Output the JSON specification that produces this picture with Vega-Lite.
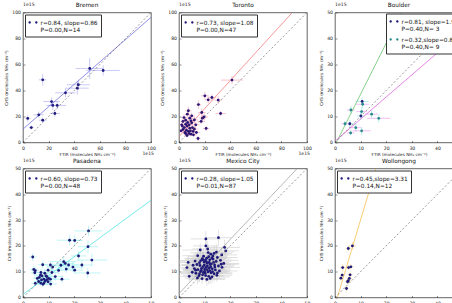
{
  "$schema": "https://vega.github.io/schema/vega-lite/v6.json",
  "background": "white",
  "padding": {"left": 3, "top": 0.5, "right": 0, "bottom": 0},
  "datasets": {
    "fits": [
      {"fit": "Bremen", "label": "r=0.84, slope=0.86|P=0.00,N=14", "x": 0, "y": 10.3, "x2": 100, "y2": 96.3},
      {"fit": "Toronto", "label": "r=0.73, slope=1.08|P=0.00,N=47", "x": 0, "y": 4.4, "x2": 88.52, "y2": 100.0},
      {"fit": "Boulder-a", "label": "r=0.81, slope=1.96|P=0.40,N= 3", "x": 0.51, "y": 0, "x2": 26.02, "y2": 50.0},
      {"fit": "Boulder-b", "label": "r=0.32,slope=0.85|P=0.40,N= 9", "x": 0, "y": 0.5, "x2": 50, "y2": 43.0},
      {"fit": "Pasadena", "label": "r=0.60, slope=0.73|P=0.00,N=48", "x": 0, "y": 1.2, "x2": 50, "y2": 37.7},
      {"fit": "Mexico City", "label": "r=0.28, slope=1.05|P=0.01,N=87", "x": 0, "y": 1.5, "x2": 46.19, "y2": 50.0},
      {"fit": "Wollongong", "label": "r=0.45,slope=3.31|P=0.14,N=12", "x": 0.906, "y": 0, "x2": 16.01, "y2": 50.0}
    ],
    "obs": [
      {"fit": "Bremen", "x": 3.7, "y": 18.5, "ex": 2, "ey": 2.5},
      {"fit": "Bremen", "x": 6.5, "y": 11.5, "ex": 2, "ey": 1.5},
      {"fit": "Bremen", "x": 12.3, "y": 21.3, "ex": 4, "ey": 2.5},
      {"fit": "Bremen", "x": 15.4, "y": 48.2, "ex": 3, "ey": 4.5},
      {"fit": "Bremen", "x": 15.4, "y": 17.2, "ex": 3, "ey": 2},
      {"fit": "Bremen", "x": 22.3, "y": 31.5, "ex": 6.5, "ey": 3},
      {"fit": "Bremen", "x": 23.3, "y": 28.5, "ex": 5, "ey": 3.5},
      {"fit": "Bremen", "x": 24.9, "y": 22.3, "ex": 4, "ey": 2.5},
      {"fit": "Bremen", "x": 26.7, "y": 28.5, "ex": 7, "ey": 3},
      {"fit": "Bremen", "x": 33.2, "y": 38.2, "ex": 8, "ey": 3.5},
      {"fit": "Bremen", "x": 42.4, "y": 41.8, "ex": 9, "ey": 5},
      {"fit": "Bremen", "x": 43.2, "y": 44.4, "ex": 9, "ey": 4},
      {"fit": "Bremen", "x": 52.1, "y": 56.9, "ex": 11, "ey": 8},
      {"fit": "Bremen", "x": 62.6, "y": 55.4, "ex": 13, "ey": 4},

      {"fit": "Toronto", "x": 41.4, "y": 48.0, "ex": 8.5, "ey": 3},
      {"fit": "Toronto", "x": 30.6, "y": 32.6, "ex": 3, "ey": 3},
      {"fit": "Toronto", "x": 32.5, "y": 22.3, "ex": 4, "ey": 2},
      {"fit": "Toronto", "x": 20.2, "y": 35.9, "ex": 3, "ey": 3},
      {"fit": "Toronto", "x": 25.7, "y": 34.6, "ex": 3, "ey": 2.5},
      {"fit": "Toronto", "x": 22.8, "y": 32.8, "ex": 2.5, "ey": 2.5},
      {"fit": "Toronto", "x": 15.2, "y": 29.2, "ex": 2, "ey": 3},
      {"fit": "Toronto", "x": 17.8, "y": 23.1, "ex": 3, "ey": 3},
      {"fit": "Toronto", "x": 18.3, "y": 18.7, "ex": 2.5, "ey": 2.5},
      {"fit": "Toronto", "x": 19.6, "y": 19.7, "ex": 3, "ey": 2.5},
      {"fit": "Toronto", "x": 21.2, "y": 10.8, "ex": 2.5, "ey": 2},
      {"fit": "Toronto", "x": 14.9, "y": 3.1, "ex": 2, "ey": 2},
      {"fit": "Toronto", "x": 7.3, "y": 24.4, "ex": 2.5, "ey": 3},
      {"fit": "Toronto", "x": 6.5, "y": 21.8, "ex": 2, "ey": 2.5},
      {"fit": "Toronto", "x": 8.4, "y": 18.7, "ex": 2.5, "ey": 2.5},
      {"fit": "Toronto", "x": 5.2, "y": 17.2, "ex": 2, "ey": 2},
      {"fit": "Toronto", "x": 3.1, "y": 16.2, "ex": 2, "ey": 2},
      {"fit": "Toronto", "x": 2.1, "y": 13.6, "ex": 1.5, "ey": 2},
      {"fit": "Toronto", "x": 4.2, "y": 11.5, "ex": 2, "ey": 2},
      {"fit": "Toronto", "x": 6.3, "y": 12.6, "ex": 2, "ey": 2},
      {"fit": "Toronto", "x": 7.9, "y": 13.6, "ex": 2.5, "ey": 2},
      {"fit": "Toronto", "x": 9.9, "y": 15.1, "ex": 3, "ey": 2},
      {"fit": "Toronto", "x": 12.0, "y": 17.4, "ex": 3, "ey": 2.5},
      {"fit": "Toronto", "x": 10.5, "y": 11.5, "ex": 2.5, "ey": 2},
      {"fit": "Toronto", "x": 5.8, "y": 9.5, "ex": 2, "ey": 1.5},
      {"fit": "Toronto", "x": 7.3, "y": 8.5, "ex": 2, "ey": 1.5},
      {"fit": "Toronto", "x": 4.7, "y": 7.7, "ex": 2, "ey": 1.5},
      {"fit": "Toronto", "x": 8.9, "y": 9.0, "ex": 2.5, "ey": 1.5},
      {"fit": "Toronto", "x": 11.0, "y": 8.5, "ex": 2.5, "ey": 1.5},
      {"fit": "Toronto", "x": 3.1, "y": 10.0, "ex": 1.5, "ey": 1.5},
      {"fit": "Toronto", "x": 1.6, "y": 9.0, "ex": 1.5, "ey": 1.5},
      {"fit": "Toronto", "x": 5.2, "y": 14.1, "ex": 2, "ey": 2},
      {"fit": "Toronto", "x": 6.8, "y": 15.4, "ex": 2, "ey": 2},
      {"fit": "Toronto", "x": 9.4, "y": 6.4, "ex": 2, "ey": 1.5},
      {"fit": "Toronto", "x": 6.3, "y": 5.4, "ex": 2, "ey": 1.5},
      {"fit": "Toronto", "x": 7.9, "y": 6.9, "ex": 2, "ey": 1.5},
      {"fit": "Toronto", "x": 12.0, "y": 10.3, "ex": 3, "ey": 2},
      {"fit": "Toronto", "x": 13.1, "y": 13.6, "ex": 3, "ey": 2},
      {"fit": "Toronto", "x": 3.9, "y": 19.2, "ex": 2, "ey": 2.5},
      {"fit": "Toronto", "x": 9.9, "y": 20.5, "ex": 2.5, "ey": 2.5},
      {"fit": "Toronto", "x": 2.6, "y": 12.6, "ex": 1.5, "ey": 2},
      {"fit": "Toronto", "x": 8.4, "y": 11.0, "ex": 2, "ey": 1.5},
      {"fit": "Toronto", "x": 5.2, "y": 6.9, "ex": 2, "ey": 1.5},
      {"fit": "Toronto", "x": 13.6, "y": 7.7, "ex": 3, "ey": 1.5},
      {"fit": "Toronto", "x": 11.3, "y": 5.9, "ex": 2.5, "ey": 1.5},
      {"fit": "Toronto", "x": 9.4, "y": 16.7, "ex": 2.5, "ey": 2},
      {"fit": "Toronto", "x": 17.3, "y": 16.2, "ex": 3, "ey": 2},

      {"fit": "Boulder-a", "x": 10.6, "y": 15.8, "ex": 2.5, "ey": 1.5},
      {"fit": "Boulder-a", "x": 10.1, "y": 10.2, "ex": 1.5, "ey": 1.5},
      {"fit": "Boulder-a", "x": 5.8, "y": 7.2, "ex": 2, "ey": 1.5},
      {"fit": "Boulder-b", "x": 10.8, "y": 14.7, "ex": 2.5, "ey": 1.5},
      {"fit": "Boulder-b", "x": 6.2, "y": 12.5, "ex": 1.5, "ey": 1.5},
      {"fit": "Boulder-b", "x": 10.4, "y": 11.9, "ex": 2, "ey": 1.5},
      {"fit": "Boulder-b", "x": 14.3, "y": 10.9, "ex": 2.5, "ey": 1.5},
      {"fit": "Boulder-b", "x": 3.9, "y": 7.2, "ex": 1.5, "ey": 1},
      {"fit": "Boulder-b", "x": 17.1, "y": 9.3, "ex": 4.5, "ey": 1.5},
      {"fit": "Boulder-b", "x": 8.1, "y": 5.7, "ex": 2, "ey": 1.5},
      {"fit": "Boulder-b", "x": 6.1, "y": 3.7, "ex": 1.5, "ey": 1},
      {"fit": "Boulder-b", "x": 10.4, "y": 4.5, "ex": 3.5, "ey": 1.5},

      {"fit": "Pasadena", "x": 25.6, "y": 25.8, "ex": 5.5, "ey": 2},
      {"fit": "Pasadena", "x": 18.2, "y": 22.2, "ex": 5, "ey": 2},
      {"fit": "Pasadena", "x": 20.2, "y": 22.1, "ex": 3, "ey": 2},
      {"fit": "Pasadena", "x": 25.4, "y": 19.7, "ex": 4, "ey": 2.5},
      {"fit": "Pasadena", "x": 21.7, "y": 16.1, "ex": 3, "ey": 2},
      {"fit": "Pasadena", "x": 26.9, "y": 14.5, "ex": 6, "ey": 2.5},
      {"fit": "Pasadena", "x": 3.8, "y": 15.7, "ex": 1.5, "ey": 1.5},
      {"fit": "Pasadena", "x": 15.9, "y": 13.9, "ex": 5, "ey": 2},
      {"fit": "Pasadena", "x": 14.8, "y": 12.5, "ex": 4, "ey": 2},
      {"fit": "Pasadena", "x": 16.5, "y": 13.2, "ex": 3.5, "ey": 1.5},
      {"fit": "Pasadena", "x": 17.8, "y": 12.6, "ex": 4, "ey": 1.5},
      {"fit": "Pasadena", "x": 19.5, "y": 11.8, "ex": 4.5, "ey": 2},
      {"fit": "Pasadena", "x": 20.2, "y": 10.6, "ex": 3, "ey": 1.5},
      {"fit": "Pasadena", "x": 16.9, "y": 11.0, "ex": 3.5, "ey": 1.5},
      {"fit": "Pasadena", "x": 15.2, "y": 7.1, "ex": 3, "ey": 1.5},
      {"fit": "Pasadena", "x": 25.3, "y": 9.5, "ex": 5, "ey": 2},
      {"fit": "Pasadena", "x": 23.0, "y": 12.6, "ex": 4, "ey": 2},
      {"fit": "Pasadena", "x": 10.7, "y": 12.6, "ex": 3, "ey": 1.5},
      {"fit": "Pasadena", "x": 11.6, "y": 11.8, "ex": 2.5, "ey": 1.5},
      {"fit": "Pasadena", "x": 4.2, "y": 10.9, "ex": 1.5, "ey": 1.5},
      {"fit": "Pasadena", "x": 4.8, "y": 10.4, "ex": 1.5, "ey": 1.5},
      {"fit": "Pasadena", "x": 4.6, "y": 9.6, "ex": 1.5, "ey": 1.5},
      {"fit": "Pasadena", "x": 7.7, "y": 12.7, "ex": 2, "ey": 1.5},
      {"fit": "Pasadena", "x": 9.8, "y": 10.6, "ex": 2, "ey": 1.5},
      {"fit": "Pasadena", "x": 7.0, "y": 9.7, "ex": 2, "ey": 1.5},
      {"fit": "Pasadena", "x": 8.5, "y": 9.4, "ex": 2, "ey": 1.5},
      {"fit": "Pasadena", "x": 7.4, "y": 8.4, "ex": 2, "ey": 1},
      {"fit": "Pasadena", "x": 9.3, "y": 8.1, "ex": 2, "ey": 1},
      {"fit": "Pasadena", "x": 6.4, "y": 7.8, "ex": 2, "ey": 1},
      {"fit": "Pasadena", "x": 8.1, "y": 7.1, "ex": 2, "ey": 1},
      {"fit": "Pasadena", "x": 10.0, "y": 7.4, "ex": 2.5, "ey": 1},
      {"fit": "Pasadena", "x": 10.7, "y": 7.1, "ex": 2.5, "ey": 1},
      {"fit": "Pasadena", "x": 7.2, "y": 6.8, "ex": 2, "ey": 1},
      {"fit": "Pasadena", "x": 6.1, "y": 6.2, "ex": 2, "ey": 1},
      {"fit": "Pasadena", "x": 8.7, "y": 6.4, "ex": 2, "ey": 1},
      {"fit": "Pasadena", "x": 9.8, "y": 6.1, "ex": 2, "ey": 1},
      {"fit": "Pasadena", "x": 8.2, "y": 5.7, "ex": 2, "ey": 1},
      {"fit": "Pasadena", "x": 6.9, "y": 5.6, "ex": 2, "ey": 1},
      {"fit": "Pasadena", "x": 4.8, "y": 5.5, "ex": 1.5, "ey": 1},
      {"fit": "Pasadena", "x": 10.8, "y": 5.2, "ex": 2.5, "ey": 1},
      {"fit": "Pasadena", "x": 7.8, "y": 5.1, "ex": 2, "ey": 1},
      {"fit": "Pasadena", "x": 9.3, "y": 6.9, "ex": 2, "ey": 1},
      {"fit": "Pasadena", "x": 5.6, "y": 7.4, "ex": 1.5, "ey": 1},
      {"fit": "Pasadena", "x": 12.6, "y": 8.1, "ex": 3, "ey": 1.5},
      {"fit": "Pasadena", "x": 11.3, "y": 9.7, "ex": 2.5, "ey": 1.5},
      {"fit": "Pasadena", "x": 13.9, "y": 10.5, "ex": 3, "ey": 1.5},
      {"fit": "Pasadena", "x": 6.8, "y": 8.7, "ex": 2, "ey": 1},
      {"fit": "Pasadena", "x": 9.0, "y": 8.4, "ex": 2, "ey": 1},

      {"fit": "Mexico City", "x": 10.5, "y": 22.7, "ex": 6, "ey": 3},
      {"fit": "Mexico City", "x": 15.4, "y": 23.2, "ex": 5, "ey": 3},
      {"fit": "Mexico City", "x": 8.3, "y": 18.4, "ex": 7, "ey": 2.5},
      {"fit": "Mexico City", "x": 10.5, "y": 20.0, "ex": 5, "ey": 2.5},
      {"fit": "Mexico City", "x": 17.8, "y": 19.4, "ex": 6, "ey": 3},
      {"fit": "Mexico City", "x": 18.3, "y": 18.1, "ex": 5, "ey": 2.5},
      {"fit": "Mexico City", "x": 13.7, "y": 17.1, "ex": 7, "ey": 3},
      {"fit": "Mexico City", "x": 16.7, "y": 16.5, "ex": 6, "ey": 2.5},
      {"fit": "Mexico City", "x": 15.0, "y": 15.5, "ex": 8, "ey": 3},
      {"fit": "Mexico City", "x": 3.6, "y": 13.6, "ex": 4, "ey": 2.5},
      {"fit": "Mexico City", "x": 3.1, "y": 11.6, "ex": 4, "ey": 2},
      {"fit": "Mexico City", "x": 4.0, "y": 8.2, "ex": 4, "ey": 2},
      {"fit": "Mexico City", "x": 7.3, "y": 16.2, "ex": 6, "ey": 3},
      {"fit": "Mexico City", "x": 11.2, "y": 18.8, "ex": 6, "ey": 3},
      {"fit": "Mexico City", "x": 12.4, "y": 16.8, "ex": 7, "ey": 2.5},
      {"fit": "Mexico City", "x": 9.6, "y": 16.0, "ex": 6, "ey": 3},
      {"fit": "Mexico City", "x": 10.8, "y": 15.2, "ex": 8, "ey": 2.5},
      {"fit": "Mexico City", "x": 12.0, "y": 14.6, "ex": 6, "ey": 3},
      {"fit": "Mexico City", "x": 13.3, "y": 14.9, "ex": 7, "ey": 2.5},
      {"fit": "Mexico City", "x": 14.5, "y": 14.0, "ex": 6, "ey": 3},
      {"fit": "Mexico City", "x": 16.2, "y": 14.4, "ex": 7, "ey": 2.5},
      {"fit": "Mexico City", "x": 17.5, "y": 13.2, "ex": 6, "ey": 2.5},
      {"fit": "Mexico City", "x": 8.5, "y": 14.3, "ex": 9, "ey": 3},
      {"fit": "Mexico City", "x": 9.8, "y": 13.8, "ex": 6, "ey": 2.5},
      {"fit": "Mexico City", "x": 11.0, "y": 13.3, "ex": 7, "ey": 3},
      {"fit": "Mexico City", "x": 12.6, "y": 13.0, "ex": 6, "ey": 2.5},
      {"fit": "Mexico City", "x": 13.9, "y": 12.6, "ex": 8, "ey": 3},
      {"fit": "Mexico City", "x": 15.4, "y": 12.2, "ex": 6, "ey": 2.5},
      {"fit": "Mexico City", "x": 16.8, "y": 11.7, "ex": 7, "ey": 2.5},
      {"fit": "Mexico City", "x": 7.0, "y": 12.8, "ex": 6, "ey": 3},
      {"fit": "Mexico City", "x": 8.2, "y": 12.4, "ex": 7, "ey": 2.5},
      {"fit": "Mexico City", "x": 9.4, "y": 12.0, "ex": 6, "ey": 3},
      {"fit": "Mexico City", "x": 10.6, "y": 11.7, "ex": 8, "ey": 2.5},
      {"fit": "Mexico City", "x": 11.8, "y": 11.4, "ex": 6, "ey": 3},
      {"fit": "Mexico City", "x": 13.0, "y": 11.1, "ex": 7, "ey": 2.5},
      {"fit": "Mexico City", "x": 14.2, "y": 10.7, "ex": 6, "ey": 2.5},
      {"fit": "Mexico City", "x": 15.8, "y": 10.3, "ex": 7, "ey": 3},
      {"fit": "Mexico City", "x": 6.0, "y": 11.2, "ex": 5, "ey": 2.5},
      {"fit": "Mexico City", "x": 7.4, "y": 10.8, "ex": 6, "ey": 3},
      {"fit": "Mexico City", "x": 8.7, "y": 10.5, "ex": 7, "ey": 2.5},
      {"fit": "Mexico City", "x": 10.0, "y": 10.2, "ex": 6, "ey": 3},
      {"fit": "Mexico City", "x": 11.3, "y": 9.9, "ex": 8, "ey": 2.5},
      {"fit": "Mexico City", "x": 12.5, "y": 9.6, "ex": 6, "ey": 2.5},
      {"fit": "Mexico City", "x": 13.7, "y": 9.2, "ex": 7, "ey": 3},
      {"fit": "Mexico City", "x": 5.2, "y": 9.8, "ex": 5, "ey": 2.5},
      {"fit": "Mexico City", "x": 6.6, "y": 9.4, "ex": 6, "ey": 2.5},
      {"fit": "Mexico City", "x": 8.0, "y": 9.1, "ex": 7, "ey": 3},
      {"fit": "Mexico City", "x": 9.2, "y": 8.8, "ex": 6, "ey": 2.5},
      {"fit": "Mexico City", "x": 10.4, "y": 8.5, "ex": 7, "ey": 2.5},
      {"fit": "Mexico City", "x": 11.6, "y": 8.2, "ex": 6, "ey": 3},
      {"fit": "Mexico City", "x": 12.9, "y": 8.0, "ex": 7, "ey": 2.5},
      {"fit": "Mexico City", "x": 14.8, "y": 8.6, "ex": 6, "ey": 2.5},
      {"fit": "Mexico City", "x": 7.2, "y": 7.6, "ex": 5, "ey": 2.5},
      {"fit": "Mexico City", "x": 9.0, "y": 7.3, "ex": 6, "ey": 2},
      {"fit": "Mexico City", "x": 10.9, "y": 7.0, "ex": 7, "ey": 2.5},
      {"fit": "Mexico City", "x": 12.2, "y": 7.4, "ex": 6, "ey": 2},
      {"fit": "Mexico City", "x": 5.5, "y": 12.5, "ex": 5, "ey": 3},
      {"fit": "Mexico City", "x": 6.3, "y": 14.1, "ex": 6, "ey": 3},
      {"fit": "Mexico City", "x": 9.1, "y": 15.1, "ex": 7, "ey": 3},
      {"fit": "Mexico City", "x": 10.3, "y": 14.5, "ex": 6, "ey": 2.5},
      {"fit": "Mexico City", "x": 11.6, "y": 15.8, "ex": 7, "ey": 3},
      {"fit": "Mexico City", "x": 13.2, "y": 16.1, "ex": 6, "ey": 2.5},
      {"fit": "Mexico City", "x": 14.6, "y": 17.6, "ex": 7, "ey": 3},
      {"fit": "Mexico City", "x": 8.8, "y": 11.3, "ex": 6, "ey": 2.5},
      {"fit": "Mexico City", "x": 9.9, "y": 12.6, "ex": 7, "ey": 3},
      {"fit": "Mexico City", "x": 11.1, "y": 12.2, "ex": 6, "ey": 2.5},
      {"fit": "Mexico City", "x": 12.2, "y": 12.8, "ex": 8, "ey": 3},
      {"fit": "Mexico City", "x": 13.5, "y": 13.6, "ex": 6, "ey": 2.5},
      {"fit": "Mexico City", "x": 10.2, "y": 9.4, "ex": 7, "ey": 2.5},
      {"fit": "Mexico City", "x": 11.0, "y": 10.8, "ex": 6, "ey": 3},
      {"fit": "Mexico City", "x": 12.0, "y": 10.4, "ex": 7, "ey": 2.5},
      {"fit": "Mexico City", "x": 9.5, "y": 9.7, "ex": 6, "ey": 2.5},
      {"fit": "Mexico City", "x": 8.4, "y": 10.0, "ex": 7, "ey": 3},
      {"fit": "Mexico City", "x": 7.8, "y": 8.4, "ex": 6, "ey": 2.5},
      {"fit": "Mexico City", "x": 6.5, "y": 10.6, "ex": 5, "ey": 2.5},
      {"fit": "Mexico City", "x": 14.0, "y": 11.8, "ex": 7, "ey": 3},
      {"fit": "Mexico City", "x": 15.0, "y": 9.5, "ex": 6, "ey": 2.5},
      {"fit": "Mexico City", "x": 16.5, "y": 12.9, "ex": 7, "ey": 3},
      {"fit": "Mexico City", "x": 10.7, "y": 13.9, "ex": 6, "ey": 2.5},
      {"fit": "Mexico City", "x": 9.3, "y": 14.6, "ex": 7, "ey": 3},
      {"fit": "Mexico City", "x": 12.8, "y": 15.3, "ex": 6, "ey": 2.5},
      {"fit": "Mexico City", "x": 11.4, "y": 17.4, "ex": 7, "ey": 3},
      {"fit": "Mexico City", "x": 8.0, "y": 13.5, "ex": 6, "ey": 2.5},
      {"fit": "Mexico City", "x": 10.0, "y": 11.0, "ex": 8, "ey": 3},
      {"fit": "Mexico City", "x": 12.4, "y": 11.9, "ex": 6, "ey": 2.5},
      {"fit": "Mexico City", "x": 13.1, "y": 10.0, "ex": 7, "ey": 2.5},
      {"fit": "Mexico City", "x": 11.8, "y": 13.6, "ex": 6, "ey": 3},

      {"fit": "Wollongong", "x": 6.8, "y": 20.0, "ex": 1.5, "ey": 1.5},
      {"fit": "Wollongong", "x": 5.2, "y": 19.0, "ex": 1, "ey": 1},
      {"fit": "Wollongong", "x": 3.0, "y": 11.6, "ex": 1, "ey": 1.5},
      {"fit": "Wollongong", "x": 6.2, "y": 11.9, "ex": 1, "ey": 1},
      {"fit": "Wollongong", "x": 5.3, "y": 11.6, "ex": 1, "ey": 1},
      {"fit": "Wollongong", "x": 2.8, "y": 8.7, "ex": 0.8, "ey": 1},
      {"fit": "Wollongong", "x": 5.9, "y": 8.8, "ex": 1, "ey": 1},
      {"fit": "Wollongong", "x": 2.3, "y": 7.5, "ex": 0.8, "ey": 1},
      {"fit": "Wollongong", "x": 5.6, "y": 7.4, "ex": 1, "ey": 1},
      {"fit": "Wollongong", "x": 5.2, "y": 6.5, "ex": 1, "ey": 1},
      {"fit": "Wollongong", "x": 4.9, "y": 6.1, "ex": 1, "ey": 1},
      {"fit": "Wollongong", "x": 4.5, "y": 3.5, "ex": 0.8, "ey": 1}
    ]
  },
  "concat": [
    {
      "width": 128, "height": 130,
      "encoding": {
        "x": {"field": "x", "type": "quantitative", "title": "FTIR (molecules NH₃ cm⁻²)", "scale": {"domain": [0, 100]}, "axis": {"values": [0, 20, 40, 60, 80, 100], "labelOverlap": false}},
        "y": {"field": "y", "type": "quantitative", "title": "CrIS (molecules NH₃ cm⁻²)", "scale": {"domain": [0, 100]}, "axis": {"values": [0, 20, 40, 60, 80, 100], "labelOverlap": false}}
      },
      "layer": [
        {"data": {"name": "obs"}, "transform": [{"filter": "datum.fit == 'Bremen'"}],
         "mark": {"type": "errorbar", "color": "#b3b3f2", "thickness": 0.7, "clip": true},
         "encoding": {"xError": {"field": "ex"}}},
        {"data": {"name": "obs"}, "transform": [{"filter": "datum.fit == 'Bremen'"}],
         "mark": {"type": "errorbar", "color": "#b3b3f2", "thickness": 0.7, "clip": true},
         "encoding": {"yError": {"field": "ey"}}},
        {"data": {"name": "fits"}, "transform": [{"filter": "datum.fit == 'Bremen'"}],
         "mark": {"type": "rule", "color": "#7373e0", "strokeWidth": 0.8, "clip": true},
         "encoding": {"x2": {"field": "x2"}, "y2": {"field": "y2"}}},
        {"data": {"name": "obs"}, "transform": [{"filter": "datum.fit == 'Bremen'"}, {"lookup": "fit", "from": {"data": {"name": "fits"}, "key": "fit", "fields": ["label"]}}],
         "mark": {"type": "point", "filled": true, "size": 8, "opacity": 1},
         "encoding": {
           "color": {"field": "label", "type": "nominal", "scale": {"range": ["#1f1a7a"]},
             "legend": {"title": null, "orient": "top-left", "labelExpr": "split(datum.label, '|')", "symbolType": "M-0.95,0a0.25,0.25 0 1,0 0.5,0a0.25,0.25 0 1,0 -0.5,0M0.45,0a0.25,0.25 0 1,0 0.5,0a0.25,0.25 0 1,0 -0.5,0"}}}},
        {"data": {"name": "fits"}, "transform": [{"filter": "datum.fit == 'Bremen'"}],
         "mark": {"type": "rule", "color": "#555555", "strokeDash": [2, 2], "strokeWidth": 0.6},
         "encoding": {
           "x": {"datum": 0, "type": "quantitative", "title": "FTIR (molecules NH₃ cm⁻²)", "axis": {"values": [0, 20, 40, 60, 80, 100], "labelOverlap": false}},
           "y": {"datum": 0, "type": "quantitative", "title": "CrIS (molecules NH₃ cm⁻²)", "axis": {"values": [0, 20, 40, 60, 80, 100], "labelOverlap": false}},
           "x2": {"datum": 100}, "y2": {"datum": 100}}},
        {"data": {"name": "fits"}, "transform": [{"filter": "datum.fit == 'Bremen'"}],
         "mark": {"type": "text", "text": "Bremen", "baseline": "bottom", "dy": -4.5, "fontSize": 5.8, "color": "#111111"},
         "encoding": {
           "x": {"datum": 50, "type": "quantitative", "title": "FTIR (molecules NH₃ cm⁻²)", "axis": {"values": [0, 20, 40, 60, 80, 100], "labelOverlap": false}},
           "y": {"datum": 100, "type": "quantitative", "title": "CrIS (molecules NH₃ cm⁻²)", "axis": {"values": [0, 20, 40, 60, 80, 100], "labelOverlap": false}}}},
        {"data": {"name": "fits"}, "transform": [{"filter": "datum.fit == 'Bremen'"}],
         "mark": {"type": "text", "text": "1e15", "align": "left", "baseline": "bottom", "dy": -6, "fontSize": 4.6, "color": "#222222"},
         "encoding": {
           "x": {"datum": 0, "type": "quantitative", "title": "FTIR (molecules NH₃ cm⁻²)", "axis": {"values": [0, 20, 40, 60, 80, 100], "labelOverlap": false}},
           "y": {"datum": 100, "type": "quantitative", "title": "CrIS (molecules NH₃ cm⁻²)", "axis": {"values": [0, 20, 40, 60, 80, 100], "labelOverlap": false}}}},
        {"data": {"name": "fits"}, "transform": [{"filter": "datum.fit == 'Bremen'"}],
         "mark": {"type": "text", "text": "1e15", "align": "right", "baseline": "middle", "dx": 3, "dy": 11, "fontSize": 4.6, "color": "#222222"},
         "encoding": {
           "x": {"datum": 100, "type": "quantitative", "title": "FTIR (molecules NH₃ cm⁻²)", "axis": {"values": [0, 20, 40, 60, 80, 100], "labelOverlap": false}},
           "y": {"datum": 0, "type": "quantitative", "title": "CrIS (molecules NH₃ cm⁻²)", "axis": {"values": [0, 20, 40, 60, 80, 100], "labelOverlap": false}}}}
      ]
    },
    {
      "width": 128, "height": 130,
      "encoding": {
        "x": {"field": "x", "type": "quantitative", "title": "FTIR (molecules NH₃ cm⁻²)", "scale": {"domain": [0, 100]}, "axis": {"values": [0, 20, 40, 60, 80, 100], "labelOverlap": false}},
        "y": {"field": "y", "type": "quantitative", "title": "CrIS (molecules NH₃ cm⁻²)", "scale": {"domain": [0, 100]}, "axis": {"values": [0, 20, 40, 60, 80, 100], "labelOverlap": false}}
      },
      "layer": [
        {"data": {"name": "obs"}, "transform": [{"filter": "datum.fit == 'Toronto'"}],
         "mark": {"type": "errorbar", "color": "#f5a6b8", "thickness": 0.7, "clip": true},
         "encoding": {"xError": {"field": "ex"}}},
        {"data": {"name": "obs"}, "transform": [{"filter": "datum.fit == 'Toronto'"}],
         "mark": {"type": "errorbar", "color": "#f5a6b8", "thickness": 0.7, "clip": true},
         "encoding": {"yError": {"field": "ey"}}},
        {"data": {"name": "fits"}, "transform": [{"filter": "datum.fit == 'Toronto'"}],
         "mark": {"type": "rule", "color": "#f27e7e", "strokeWidth": 0.8, "clip": true},
         "encoding": {"x2": {"field": "x2"}, "y2": {"field": "y2"}}},
        {"data": {"name": "obs"}, "transform": [{"filter": "datum.fit == 'Toronto'"}, {"lookup": "fit", "from": {"data": {"name": "fits"}, "key": "fit", "fields": ["label"]}}],
         "mark": {"type": "point", "filled": true, "size": 8, "opacity": 1},
         "encoding": {
           "color": {"field": "label", "type": "nominal", "scale": {"range": ["#2a1676"]},
             "legend": {"title": null, "orient": "top-left", "labelExpr": "split(datum.label, '|')", "symbolType": "M-0.95,0a0.25,0.25 0 1,0 0.5,0a0.25,0.25 0 1,0 -0.5,0M0.45,0a0.25,0.25 0 1,0 0.5,0a0.25,0.25 0 1,0 -0.5,0"}}}},
        {"data": {"name": "fits"}, "transform": [{"filter": "datum.fit == 'Toronto'"}],
         "mark": {"type": "rule", "color": "#555555", "strokeDash": [2, 2], "strokeWidth": 0.6},
         "encoding": {
           "x": {"datum": 0, "type": "quantitative", "title": "FTIR (molecules NH₃ cm⁻²)", "axis": {"values": [0, 20, 40, 60, 80, 100], "labelOverlap": false}},
           "y": {"datum": 0, "type": "quantitative", "title": "CrIS (molecules NH₃ cm⁻²)", "axis": {"values": [0, 20, 40, 60, 80, 100], "labelOverlap": false}},
           "x2": {"datum": 100}, "y2": {"datum": 100}}},
        {"data": {"name": "fits"}, "transform": [{"filter": "datum.fit == 'Toronto'"}],
         "mark": {"type": "text", "text": "Toronto", "baseline": "bottom", "dy": -4.5, "fontSize": 5.8, "color": "#111111"},
         "encoding": {
           "x": {"datum": 50, "type": "quantitative", "title": "FTIR (molecules NH₃ cm⁻²)", "axis": {"values": [0, 20, 40, 60, 80, 100], "labelOverlap": false}},
           "y": {"datum": 100, "type": "quantitative", "title": "CrIS (molecules NH₃ cm⁻²)", "axis": {"values": [0, 20, 40, 60, 80, 100], "labelOverlap": false}}}},
        {"data": {"name": "fits"}, "transform": [{"filter": "datum.fit == 'Toronto'"}],
         "mark": {"type": "text", "text": "1e15", "align": "left", "baseline": "bottom", "dy": -6, "fontSize": 4.6, "color": "#222222"},
         "encoding": {
           "x": {"datum": 0, "type": "quantitative", "title": "FTIR (molecules NH₃ cm⁻²)", "axis": {"values": [0, 20, 40, 60, 80, 100], "labelOverlap": false}},
           "y": {"datum": 100, "type": "quantitative", "title": "CrIS (molecules NH₃ cm⁻²)", "axis": {"values": [0, 20, 40, 60, 80, 100], "labelOverlap": false}}}},
        {"data": {"name": "fits"}, "transform": [{"filter": "datum.fit == 'Toronto'"}],
         "mark": {"type": "text", "text": "1e15", "align": "right", "baseline": "middle", "dx": 3, "dy": 11, "fontSize": 4.6, "color": "#222222"},
         "encoding": {
           "x": {"datum": 100, "type": "quantitative", "title": "FTIR (molecules NH₃ cm⁻²)", "axis": {"values": [0, 20, 40, 60, 80, 100], "labelOverlap": false}},
           "y": {"datum": 0, "type": "quantitative", "title": "CrIS (molecules NH₃ cm⁻²)", "axis": {"values": [0, 20, 40, 60, 80, 100], "labelOverlap": false}}}}
      ]
    },
    {
      "width": 128, "height": 130,
      "encoding": {
        "x": {"field": "x", "type": "quantitative", "title": "FTIR (molecules NH₃ cm⁻²)", "scale": {"domain": [0, 50]}, "axis": {"values": [0, 10, 20, 30, 40, 50], "labelOverlap": false}},
        "y": {"field": "y", "type": "quantitative", "title": "CrIS (molecules NH₃ cm⁻²)", "scale": {"domain": [0, 50]}, "axis": {"values": [0, 10, 20, 30, 40, 50], "labelOverlap": false}}
      },
      "layer": [
        {"data": {"name": "obs"}, "transform": [{"filter": "datum.fit == 'Boulder-a'"}],
         "mark": {"type": "errorbar", "color": "#8fe3e3", "thickness": 0.7, "clip": true},
         "encoding": {"xError": {"field": "ex"}}},
        {"data": {"name": "obs"}, "transform": [{"filter": "indexof(datum.fit, 'Boulder') == 0"}],
         "mark": {"type": "errorbar", "color": "#8fe3e3", "thickness": 0.7, "clip": true},
         "encoding": {"yError": {"field": "ey"}}},
        {"data": {"name": "obs"}, "transform": [{"filter": "datum.fit == 'Boulder-b'"}],
         "mark": {"type": "errorbar", "color": "#f2a2f2", "thickness": 0.7, "clip": true},
         "encoding": {"xError": {"field": "ex"}}},
        {"data": {"name": "fits"}, "transform": [{"filter": "datum.fit == 'Boulder-a'"}],
         "mark": {"type": "rule", "color": "#6cc46c", "strokeWidth": 0.8, "clip": true},
         "encoding": {"x2": {"field": "x2"}, "y2": {"field": "y2"}}},
        {"data": {"name": "fits"}, "transform": [{"filter": "datum.fit == 'Boulder-b'"}],
         "mark": {"type": "rule", "color": "#e064e0", "strokeWidth": 0.8, "clip": true},
         "encoding": {"x2": {"field": "x2"}, "y2": {"field": "y2"}}},
        {"data": {"name": "obs"}, "transform": [{"filter": "indexof(datum.fit, 'Boulder') == 0"}, {"lookup": "fit", "from": {"data": {"name": "fits"}, "key": "fit", "fields": ["label"]}}],
         "mark": {"type": "point", "filled": true, "size": 8, "opacity": 1},
         "encoding": {
           "color": {"field": "label", "type": "nominal",
             "scale": {"domain": ["r=0.81, slope=1.96|P=0.40,N= 3", "r=0.32,slope=0.85|P=0.40,N= 9"], "range": ["#1f1a7a", "#2a8a8a"]},
             "legend": {"title": null, "orient": "top-right", "offset": 1, "labelExpr": "split(datum.label, '|')", "symbolType": "M-0.95,0a0.25,0.25 0 1,0 0.5,0a0.25,0.25 0 1,0 -0.5,0M0.45,0a0.25,0.25 0 1,0 0.5,0a0.25,0.25 0 1,0 -0.5,0"}}}},
        {"data": {"name": "fits"}, "transform": [{"filter": "datum.fit == 'Boulder-a'"}],
         "mark": {"type": "rule", "color": "#555555", "strokeDash": [2, 2], "strokeWidth": 0.6},
         "encoding": {
           "x": {"datum": 0, "type": "quantitative", "title": "FTIR (molecules NH₃ cm⁻²)", "axis": {"values": [0, 10, 20, 30, 40, 50], "labelOverlap": false}},
           "y": {"datum": 0, "type": "quantitative", "title": "CrIS (molecules NH₃ cm⁻²)", "axis": {"values": [0, 10, 20, 30, 40, 50], "labelOverlap": false}},
           "x2": {"datum": 50}, "y2": {"datum": 50}}},
        {"data": {"name": "fits"}, "transform": [{"filter": "datum.fit == 'Boulder-a'"}],
         "mark": {"type": "text", "text": "Boulder", "baseline": "bottom", "dy": -4.5, "fontSize": 5.8, "color": "#111111"},
         "encoding": {
           "x": {"datum": 25, "type": "quantitative", "title": "FTIR (molecules NH₃ cm⁻²)", "axis": {"values": [0, 10, 20, 30, 40, 50], "labelOverlap": false}},
           "y": {"datum": 50, "type": "quantitative", "title": "CrIS (molecules NH₃ cm⁻²)", "axis": {"values": [0, 10, 20, 30, 40, 50], "labelOverlap": false}}}},
        {"data": {"name": "fits"}, "transform": [{"filter": "datum.fit == 'Boulder-a'"}],
         "mark": {"type": "text", "text": "1e15", "align": "left", "baseline": "bottom", "dy": -6, "fontSize": 4.6, "color": "#222222"},
         "encoding": {
           "x": {"datum": 0, "type": "quantitative", "title": "FTIR (molecules NH₃ cm⁻²)", "axis": {"values": [0, 10, 20, 30, 40, 50], "labelOverlap": false}},
           "y": {"datum": 50, "type": "quantitative", "title": "CrIS (molecules NH₃ cm⁻²)", "axis": {"values": [0, 10, 20, 30, 40, 50], "labelOverlap": false}}}},
        {"data": {"name": "fits"}, "transform": [{"filter": "datum.fit == 'Boulder-a'"}],
         "mark": {"type": "text", "text": "1e15", "align": "right", "baseline": "middle", "dx": 3, "dy": 11, "fontSize": 4.6, "color": "#222222"},
         "encoding": {
           "x": {"datum": 50, "type": "quantitative", "title": "FTIR (molecules NH₃ cm⁻²)", "axis": {"values": [0, 10, 20, 30, 40, 50], "labelOverlap": false}},
           "y": {"datum": 0, "type": "quantitative", "title": "CrIS (molecules NH₃ cm⁻²)", "axis": {"values": [0, 10, 20, 30, 40, 50], "labelOverlap": false}}}}
      ]
    },
    {
      "width": 128, "height": 129,
      "encoding": {
        "x": {"field": "x", "type": "quantitative", "title": "FTIR (molecules NH₃ cm⁻²)", "scale": {"domain": [0, 50]}, "axis": {"values": [0, 10, 20, 30, 40, 50], "labelOverlap": false}},
        "y": {"field": "y", "type": "quantitative", "title": "CrIS (molecules NH₃ cm⁻²)", "scale": {"domain": [0, 50]}, "axis": {"values": [0, 10, 20, 30, 40, 50], "labelOverlap": false}}
      },
      "layer": [
        {"data": {"name": "obs"}, "transform": [{"filter": "datum.fit == 'Pasadena'"}],
         "mark": {"type": "errorbar", "color": "#a4f0f0", "thickness": 0.7, "clip": true},
         "encoding": {"xError": {"field": "ex"}}},
        {"data": {"name": "obs"}, "transform": [{"filter": "datum.fit == 'Pasadena'"}],
         "mark": {"type": "errorbar", "color": "#a4f0f0", "thickness": 0.7, "clip": true},
         "encoding": {"yError": {"field": "ey"}}},
        {"data": {"name": "fits"}, "transform": [{"filter": "datum.fit == 'Pasadena'"}],
         "mark": {"type": "rule", "color": "#55e3e3", "strokeWidth": 0.8, "clip": true},
         "encoding": {"x2": {"field": "x2"}, "y2": {"field": "y2"}}},
        {"data": {"name": "obs"}, "transform": [{"filter": "datum.fit == 'Pasadena'"}, {"lookup": "fit", "from": {"data": {"name": "fits"}, "key": "fit", "fields": ["label"]}}],
         "mark": {"type": "point", "filled": true, "size": 8, "opacity": 1},
         "encoding": {
           "color": {"field": "label", "type": "nominal", "scale": {"range": ["#1f1a7a"]},
             "legend": {"title": null, "orient": "top-left", "labelExpr": "split(datum.label, '|')", "symbolType": "M-0.95,0a0.25,0.25 0 1,0 0.5,0a0.25,0.25 0 1,0 -0.5,0M0.45,0a0.25,0.25 0 1,0 0.5,0a0.25,0.25 0 1,0 -0.5,0"}}}},
        {"data": {"name": "fits"}, "transform": [{"filter": "datum.fit == 'Pasadena'"}],
         "mark": {"type": "rule", "color": "#555555", "strokeDash": [2, 2], "strokeWidth": 0.6},
         "encoding": {
           "x": {"datum": 0, "type": "quantitative", "title": "FTIR (molecules NH₃ cm⁻²)", "axis": {"values": [0, 10, 20, 30, 40, 50], "labelOverlap": false}},
           "y": {"datum": 0, "type": "quantitative", "title": "CrIS (molecules NH₃ cm⁻²)", "axis": {"values": [0, 10, 20, 30, 40, 50], "labelOverlap": false}},
           "x2": {"datum": 50}, "y2": {"datum": 50}}},
        {"data": {"name": "fits"}, "transform": [{"filter": "datum.fit == 'Pasadena'"}],
         "mark": {"type": "text", "text": "Pasadena", "baseline": "bottom", "dy": -4.5, "fontSize": 5.8, "color": "#111111"},
         "encoding": {
           "x": {"datum": 25, "type": "quantitative", "title": "FTIR (molecules NH₃ cm⁻²)", "axis": {"values": [0, 10, 20, 30, 40, 50], "labelOverlap": false}},
           "y": {"datum": 50, "type": "quantitative", "title": "CrIS (molecules NH₃ cm⁻²)", "axis": {"values": [0, 10, 20, 30, 40, 50], "labelOverlap": false}}}},
        {"data": {"name": "fits"}, "transform": [{"filter": "datum.fit == 'Pasadena'"}],
         "mark": {"type": "text", "text": "1e15", "align": "left", "baseline": "bottom", "dy": -6, "fontSize": 4.6, "color": "#222222"},
         "encoding": {
           "x": {"datum": 0, "type": "quantitative", "title": "FTIR (molecules NH₃ cm⁻²)", "axis": {"values": [0, 10, 20, 30, 40, 50], "labelOverlap": false}},
           "y": {"datum": 50, "type": "quantitative", "title": "CrIS (molecules NH₃ cm⁻²)", "axis": {"values": [0, 10, 20, 30, 40, 50], "labelOverlap": false}}}},
        {"data": {"name": "fits"}, "transform": [{"filter": "datum.fit == 'Pasadena'"}],
         "mark": {"type": "text", "text": "1e15", "align": "right", "baseline": "middle", "dx": 3, "dy": 11, "fontSize": 4.6, "color": "#222222"},
         "encoding": {
           "x": {"datum": 50, "type": "quantitative", "title": "FTIR (molecules NH₃ cm⁻²)", "axis": {"values": [0, 10, 20, 30, 40, 50], "labelOverlap": false}},
           "y": {"datum": 0, "type": "quantitative", "title": "CrIS (molecules NH₃ cm⁻²)", "axis": {"values": [0, 10, 20, 30, 40, 50], "labelOverlap": false}}}}
      ]
    },
    {
      "width": 128, "height": 129,
      "encoding": {
        "x": {"field": "x", "type": "quantitative", "title": "FTIR (molecules NH₃ cm⁻²)", "scale": {"domain": [0, 50]}, "axis": {"values": [0, 10, 20, 30, 40, 50], "labelOverlap": false}},
        "y": {"field": "y", "type": "quantitative", "title": "CrIS (molecules NH₃ cm⁻²)", "scale": {"domain": [0, 50]}, "axis": {"values": [0, 10, 20, 30, 40, 50], "labelOverlap": false}}
      },
      "layer": [
        {"data": {"name": "obs"}, "transform": [{"filter": "datum.fit == 'Mexico City'"}],
         "mark": {"type": "errorbar", "color": "#cccccc", "thickness": 0.6, "clip": true},
         "encoding": {"xError": {"field": "ex"}}},
        {"data": {"name": "obs"}, "transform": [{"filter": "datum.fit == 'Mexico City'"}],
         "mark": {"type": "errorbar", "color": "#cccccc", "thickness": 0.6, "clip": true},
         "encoding": {"yError": {"field": "ey"}}},
        {"data": {"name": "fits"}, "transform": [{"filter": "datum.fit == 'Mexico City'"}],
         "mark": {"type": "rule", "color": "#a6a6a6", "strokeWidth": 0.8, "clip": true},
         "encoding": {"x2": {"field": "x2"}, "y2": {"field": "y2"}}},
        {"data": {"name": "obs"}, "transform": [{"filter": "datum.fit == 'Mexico City'"}, {"lookup": "fit", "from": {"data": {"name": "fits"}, "key": "fit", "fields": ["label"]}}],
         "mark": {"type": "point", "filled": true, "size": 8, "opacity": 1},
         "encoding": {
           "color": {"field": "label", "type": "nominal", "scale": {"range": ["#1f1a7a"]},
             "legend": {"title": null, "orient": "top-left", "labelExpr": "split(datum.label, '|')", "symbolType": "M-0.95,0a0.25,0.25 0 1,0 0.5,0a0.25,0.25 0 1,0 -0.5,0M0.45,0a0.25,0.25 0 1,0 0.5,0a0.25,0.25 0 1,0 -0.5,0"}}}},
        {"data": {"name": "fits"}, "transform": [{"filter": "datum.fit == 'Mexico City'"}],
         "mark": {"type": "rule", "color": "#555555", "strokeDash": [2, 2], "strokeWidth": 0.6},
         "encoding": {
           "x": {"datum": 0, "type": "quantitative", "title": "FTIR (molecules NH₃ cm⁻²)", "axis": {"values": [0, 10, 20, 30, 40, 50], "labelOverlap": false}},
           "y": {"datum": 0, "type": "quantitative", "title": "CrIS (molecules NH₃ cm⁻²)", "axis": {"values": [0, 10, 20, 30, 40, 50], "labelOverlap": false}},
           "x2": {"datum": 50}, "y2": {"datum": 50}}},
        {"data": {"name": "fits"}, "transform": [{"filter": "datum.fit == 'Mexico City'"}],
         "mark": {"type": "text", "text": "Mexico City", "baseline": "bottom", "dy": -4.5, "fontSize": 5.8, "color": "#111111"},
         "encoding": {
           "x": {"datum": 25, "type": "quantitative", "title": "FTIR (molecules NH₃ cm⁻²)", "axis": {"values": [0, 10, 20, 30, 40, 50], "labelOverlap": false}},
           "y": {"datum": 50, "type": "quantitative", "title": "CrIS (molecules NH₃ cm⁻²)", "axis": {"values": [0, 10, 20, 30, 40, 50], "labelOverlap": false}}}},
        {"data": {"name": "fits"}, "transform": [{"filter": "datum.fit == 'Mexico City'"}],
         "mark": {"type": "text", "text": "1e15", "align": "left", "baseline": "bottom", "dy": -6, "fontSize": 4.6, "color": "#222222"},
         "encoding": {
           "x": {"datum": 0, "type": "quantitative", "title": "FTIR (molecules NH₃ cm⁻²)", "axis": {"values": [0, 10, 20, 30, 40, 50], "labelOverlap": false}},
           "y": {"datum": 50, "type": "quantitative", "title": "CrIS (molecules NH₃ cm⁻²)", "axis": {"values": [0, 10, 20, 30, 40, 50], "labelOverlap": false}}}},
        {"data": {"name": "fits"}, "transform": [{"filter": "datum.fit == 'Mexico City'"}],
         "mark": {"type": "text", "text": "1e15", "align": "right", "baseline": "middle", "dx": 3, "dy": 11, "fontSize": 4.6, "color": "#222222"},
         "encoding": {
           "x": {"datum": 50, "type": "quantitative", "title": "FTIR (molecules NH₃ cm⁻²)", "axis": {"values": [0, 10, 20, 30, 40, 50], "labelOverlap": false}},
           "y": {"datum": 0, "type": "quantitative", "title": "CrIS (molecules NH₃ cm⁻²)", "axis": {"values": [0, 10, 20, 30, 40, 50], "labelOverlap": false}}}}
      ]
    },
    {
      "width": 128, "height": 129,
      "encoding": {
        "x": {"field": "x", "type": "quantitative", "title": "FTIR (molecules NH₃ cm⁻²)", "scale": {"domain": [0, 50]}, "axis": {"values": [0, 10, 20, 30, 40, 50], "labelOverlap": false}},
        "y": {"field": "y", "type": "quantitative", "title": "CrIS (molecules NH₃ cm⁻²)", "scale": {"domain": [0, 50]}, "axis": {"values": [0, 10, 20, 30, 40, 50], "labelOverlap": false}}
      },
      "layer": [
        {"data": {"name": "obs"}, "transform": [{"filter": "datum.fit == 'Wollongong'"}],
         "mark": {"type": "errorbar", "color": "#f8d38a", "thickness": 0.7, "clip": true},
         "encoding": {"xError": {"field": "ex"}}},
        {"data": {"name": "obs"}, "transform": [{"filter": "datum.fit == 'Wollongong'"}],
         "mark": {"type": "errorbar", "color": "#f8d38a", "thickness": 0.7, "clip": true},
         "encoding": {"yError": {"field": "ey"}}},
        {"data": {"name": "fits"}, "transform": [{"filter": "datum.fit == 'Wollongong'"}],
         "mark": {"type": "rule", "color": "#f5bf50", "strokeWidth": 0.8, "clip": true},
         "encoding": {"x2": {"field": "x2"}, "y2": {"field": "y2"}}},
        {"data": {"name": "obs"}, "transform": [{"filter": "datum.fit == 'Wollongong'"}, {"lookup": "fit", "from": {"data": {"name": "fits"}, "key": "fit", "fields": ["label"]}}],
         "mark": {"type": "point", "filled": true, "size": 8, "opacity": 1},
         "encoding": {
           "color": {"field": "label", "type": "nominal", "scale": {"range": ["#1f1a7a"]},
             "legend": {"title": null, "orient": "top-left", "labelExpr": "split(datum.label, '|')", "symbolType": "M-0.95,0a0.25,0.25 0 1,0 0.5,0a0.25,0.25 0 1,0 -0.5,0M0.45,0a0.25,0.25 0 1,0 0.5,0a0.25,0.25 0 1,0 -0.5,0"}}}},
        {"data": {"name": "fits"}, "transform": [{"filter": "datum.fit == 'Wollongong'"}],
         "mark": {"type": "rule", "color": "#555555", "strokeDash": [2, 2], "strokeWidth": 0.6},
         "encoding": {
           "x": {"datum": 0, "type": "quantitative", "title": "FTIR (molecules NH₃ cm⁻²)", "axis": {"values": [0, 10, 20, 30, 40, 50], "labelOverlap": false}},
           "y": {"datum": 0, "type": "quantitative", "title": "CrIS (molecules NH₃ cm⁻²)", "axis": {"values": [0, 10, 20, 30, 40, 50], "labelOverlap": false}},
           "x2": {"datum": 50}, "y2": {"datum": 50}}},
        {"data": {"name": "fits"}, "transform": [{"filter": "datum.fit == 'Wollongong'"}],
         "mark": {"type": "text", "text": "Wollongong", "baseline": "bottom", "dy": -4.5, "fontSize": 5.8, "color": "#111111"},
         "encoding": {
           "x": {"datum": 25, "type": "quantitative", "title": "FTIR (molecules NH₃ cm⁻²)", "axis": {"values": [0, 10, 20, 30, 40, 50], "labelOverlap": false}},
           "y": {"datum": 50, "type": "quantitative", "title": "CrIS (molecules NH₃ cm⁻²)", "axis": {"values": [0, 10, 20, 30, 40, 50], "labelOverlap": false}}}},
        {"data": {"name": "fits"}, "transform": [{"filter": "datum.fit == 'Wollongong'"}],
         "mark": {"type": "text", "text": "1e15", "align": "left", "baseline": "bottom", "dy": -6, "fontSize": 4.6, "color": "#222222"},
         "encoding": {
           "x": {"datum": 0, "type": "quantitative", "title": "FTIR (molecules NH₃ cm⁻²)", "axis": {"values": [0, 10, 20, 30, 40, 50], "labelOverlap": false}},
           "y": {"datum": 50, "type": "quantitative", "title": "CrIS (molecules NH₃ cm⁻²)", "axis": {"values": [0, 10, 20, 30, 40, 50], "labelOverlap": false}}}},
        {"data": {"name": "fits"}, "transform": [{"filter": "datum.fit == 'Wollongong'"}],
         "mark": {"type": "text", "text": "1e15", "align": "right", "baseline": "middle", "dx": 3, "dy": 11, "fontSize": 4.6, "color": "#222222"},
         "encoding": {
           "x": {"datum": 50, "type": "quantitative", "title": "FTIR (molecules NH₃ cm⁻²)", "axis": {"values": [0, 10, 20, 30, 40, 50], "labelOverlap": false}},
           "y": {"datum": 0, "type": "quantitative", "title": "CrIS (molecules NH₃ cm⁻²)", "axis": {"values": [0, 10, 20, 30, 40, 50], "labelOverlap": false}}}}
      ]
    }
  ],
  "columns": 3,
  "spacing": {"row": 26, "column": 28},
  "bounds": "flush",
  "resolve": {"scale": {"color": "independent"}, "legend": {"color": "independent"}},
  "config": {
    "font": "DejaVu Sans",
    "view": {"stroke": "#222222", "strokeWidth": 0.7},
    "axis": {
      "grid": false, "domain": false,
      "labelFont": "DejaVu Sans", "labelFontSize": 4.6, "labelColor": "#222222",
      "labelFlush": false, "labelOverlap": false, "labelSeparation": -40, "labelPadding": 4.5,
      "tickSize": -2, "tickWidth": 0.5, "tickColor": "#222222",
      "titleFont": "DejaVu Sans", "titleFontSize": 4.2, "titleFontWeight": "normal", "titleColor": "#222222",
      "titlePadding": 2.5
    },
    "axisY": {"titlePadding": 3.5},
    "legend": {
      "offset": 2, "padding": 3, "fillColor": "white", "strokeColor": "#333333", "cornerRadius": 0,
      "symbolSize": 90, "symbolStrokeWidth": 0, "labelFont": "DejaVu Sans", "labelFontSize": 5.8,
      "labelColor": "#111111", "labelLimit": 300, "labelOffset": 2.5, "rowPadding": 2
    }
  }
}
